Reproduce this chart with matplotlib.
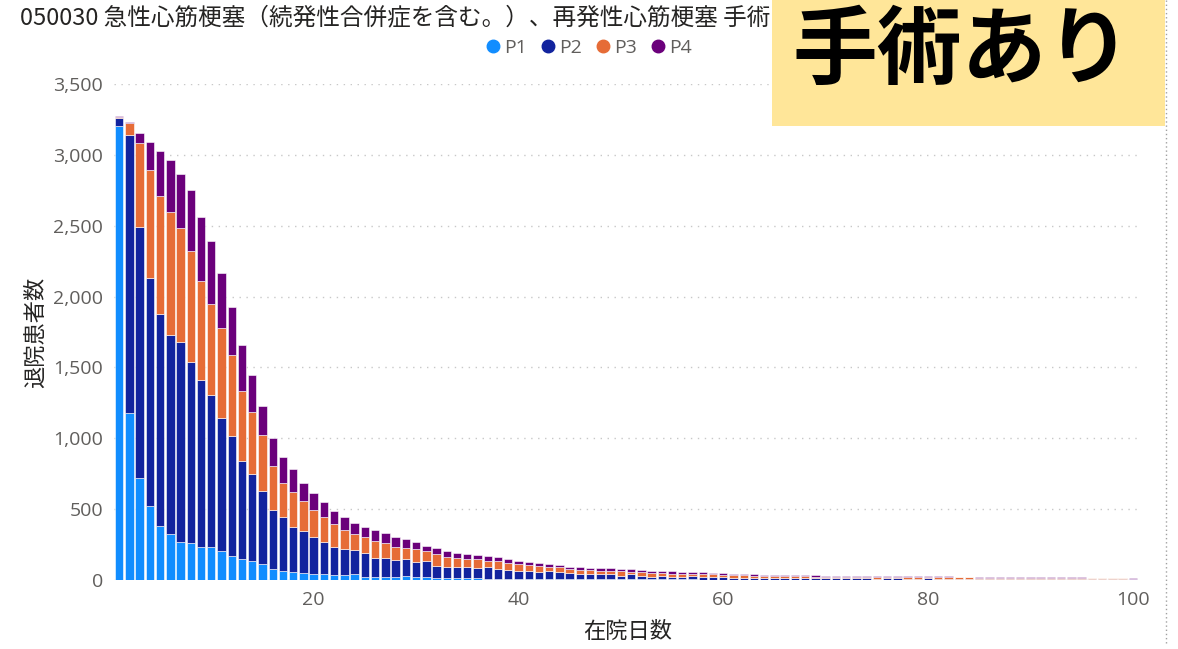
import matplotlib
matplotlib.use("Agg")
import matplotlib.pyplot as plt
from matplotlib.lines import Line2D
from matplotlib.patches import Rectangle
from matplotlib.ticker import FuncFormatter
import numpy as np

plt.rcParams['font.family'] = ['Noto Sans CJK JP', 'DejaVu Sans']

# 在院日数 1..100
days = list(range(1, 101))

p1 = [3200, 1176, 718, 524, 383, 322, 271, 264, 231, 235,
      205, 172, 151, 132, 113, 78, 64, 59, 47, 40,
      40, 35, 35, 40, 21, 24, 21, 21, 28, 21,
      19, 16, 12, 12, 12, 14, 9, 9, 5, 9,
      7, 7, 7, 7, 5, 5, 5, 5, 5, 5,
      5, 5, 4, 4, 4, 4, 4, 3, 3, 3,
      3, 3, 2, 3, 2, 2, 2, 3, 2, 2,
      2, 2, 2, 2, 1, 2, 2, 1, 2, 2,
      1, 2, 1, 2, 1, 1, 1, 1, 1, 1,
      1, 1, 1, 1, 1, 1, 1, 1, 1, 1]
p2 = [60, 1964, 1775, 1609, 1496, 1407, 1411, 1277, 1180, 1071,
      941, 844, 691, 614, 515, 418, 378, 313, 301, 261,
      231, 200, 186, 170, 167, 129, 136, 120, 118, 108,
      115, 85, 82, 82, 77, 68, 85, 69, 68, 55,
      59, 49, 54, 47, 42, 35, 35, 37, 35, 26,
      35, 26, 20, 24, 20, 20, 22, 18, 18, 16,
      11, 14, 13, 12, 12, 13, 11, 12, 10, 10,
      10, 11, 9, 9, 9, 9, 10, 9, 8, 9,
      8, 8, 8, 7, 8, 7, 7, 8, 7, 7,
      7, 6, 7, 6, 7, 6, 6, 5, 5, 4]
p3 = [10, 83, 593, 760, 833, 868, 800, 783, 699, 640,
      630, 572, 492, 437, 393, 311, 243, 251, 210, 193,
      171, 158, 132, 115, 115, 122, 102, 90, 82, 90,
      71, 82, 68, 59, 59, 64, 42, 54, 49, 47,
      40, 45, 33, 35, 31, 28, 28, 24, 26, 35,
      19, 25, 25, 19, 21, 18, 16, 19, 19, 16,
      19, 16, 15, 14, 13, 12, 12, 12, 11, 12,
      10, 10, 11, 10, 10, 9, 9, 10, 9, 9,
      9, 9, 9, 9, 8, 9, 8, 8, 8, 8,
      7, 8, 7, 7, 6, 6, 6, 6, 5, 5]
p4 = [5, 7, 66, 200, 318, 367, 383, 428, 450, 444,
      388, 341, 324, 261, 205, 193, 183, 158, 124, 122,
      106, 92, 89, 75, 73, 76, 71, 75, 59, 47,
      37, 43, 41, 40, 35, 30, 33, 28, 24, 25,
      19, 17, 17, 15, 16, 21, 19, 16, 16, 14,
      16, 17, 17, 14, 16, 14, 14, 14, 12, 12,
      9, 9, 10, 8, 9, 8, 9, 7, 9, 7,
      8, 7, 7, 7, 7, 8, 6, 6, 7, 6,
      7, 6, 6, 5, 5, 5, 5, 4, 5, 4,
      5, 5, 4, 5, 4, 4, 3, 3, 3, 2]

series = ["P1", "P2", "P3", "P4"]
colors = ["#118DFF", "#12239E", "#E66C37", "#6B007B"]

fig = plt.figure(figsize=(11.78, 6.49), dpi=100)
ax = fig.add_axes([0.0968, 0.1063, 0.8718, 0.7643])

bottom = np.zeros(len(days))
for name, vals, c in zip(series, [p1, p2, p3, p4], colors):
    ax.bar(days, vals, bottom=bottom, width=0.82, color=c,
           edgecolor="white", linewidth=0.4, label=name, zorder=3)
    bottom += np.array(vals)

ax.set_xlim(0.5, 100.8)
ax.set_ylim(0, 3500)
ax.set_yticks(range(0, 3501, 500))
ax.set_xticks([20, 40, 60, 80, 100])
ax.yaxis.set_major_formatter(FuncFormatter(lambda v, p: f"{int(v):,}"))
ax.grid(axis="y", color="#C8C8C8", linestyle=(0, (1, 4)), linewidth=1, zorder=0)
for s in ax.spines.values():
    s.set_visible(False)
ax.tick_params(length=0, labelsize=14, colors="#605E5C", pad=8)
for lab in ax.get_xticklabels() + ax.get_yticklabels():
    lab.set_family(["Open Sans", "DejaVu Sans"])
ax.set_ylabel("退院患者数", fontsize=16, color="#252423", labelpad=4)
ax.set_xlabel("在院日数", fontsize=16, color="#252423", labelpad=8)

# 凡例
handles = [Line2D([], [], marker="o", linestyle="", markersize=9, color=c) for c in colors]
leg = fig.legend(handles, series, loc="center", bbox_to_anchor=(0.498, 0.926), ncol=4,
                 frameon=False, fontsize=14, handletextpad=0.0, columnspacing=0.45,
                 labelcolor="#605E5C", handlelength=1.2)
for t in leg.get_texts():
    t.set_family(["Open Sans", "DejaVu Sans"])

# タイトル（右側は注記ボックスの下に隠れる）
fig.text(0.017, 0.972, "050030 急性心筋梗塞（続発性合併症を含む。）、再発性心筋梗塞 手術",
         fontsize=17, color="#252423", va="center", ha="left")

# 右上の注記ボックス
fig.patches.append(Rectangle((772 / 1178, 1 - 126 / 649), (1165 - 772) / 1178, 126 / 649,
                             transform=fig.transFigure, facecolor="#FFE699",
                             edgecolor="none", zorder=5))
fig.text(962 / 1178, 1 - 52 / 649, "手術あり", fontsize=61, fontweight="bold",
         color="black", ha="center", va="center", zorder=6)

# 右端の点線
fig.add_artist(Line2D([1166 / 1178, 1166 / 1178], [0.01, 1.0], transform=fig.transFigure,
                      color="#A0A0A0", linestyle=(0, (1, 2)), linewidth=1))

fig.savefig("out.png", dpi=100)
